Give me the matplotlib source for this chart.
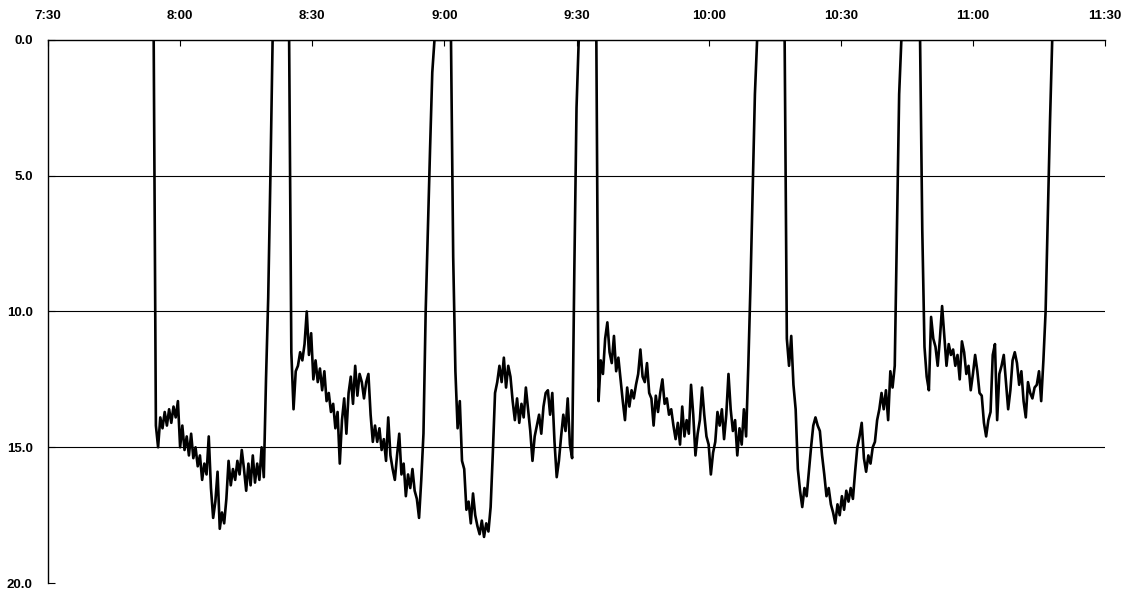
import matplotlib.pyplot as plt
import numpy as np

# dive profile, depth sampled every 30 s, each dive starts and ends at the surface
step_min = 0.5

dive_starts = ["7:54:00", "8:24:45", "9:01:30", "9:34:30", "10:17:15", "10:48:00"]

dive1 = [0.0, 14.2, 15.0, 13.9, 14.3, 13.7, 14.2, 13.6, 14.1, 13.5, 13.9, 13.3, 15.0, 14.2, 15.1,
         14.6, 15.3, 14.5, 15.4, 15.0, 15.7, 15.3, 16.2, 15.6, 16.0, 14.6, 16.5, 17.6, 17.0, 15.9,
         18.0, 17.4, 17.8, 16.9, 15.5, 16.4, 15.8, 16.2, 15.5, 16.0, 15.1, 15.8, 16.6, 15.6, 16.4,
         15.3, 16.3, 15.6, 16.2, 15.0, 16.1, 12.5, 9.5, 5.0, 0.0]
dive2 = [0.0, 11.5, 13.6, 12.2, 12.0, 11.5, 11.8, 11.2, 10.0, 11.6, 10.8, 12.5, 11.8, 12.6, 12.1,
         12.9, 12.2, 13.3, 13.0, 13.7, 13.4, 14.3, 13.7, 15.6, 14.0, 13.2, 14.5, 13.0, 12.4, 13.4,
         12.0, 13.1, 12.3, 12.6, 13.2, 12.6, 12.3, 13.8, 14.8, 14.2, 14.8, 14.3, 15.1, 14.7, 15.5,
         13.9, 15.3, 15.8, 16.2, 15.3, 14.5, 16.0, 15.6, 16.8, 16.0, 16.5, 15.8, 16.6, 16.9, 17.6,
         16.2, 14.5, 10.0, 7.0, 4.0, 1.2, 0.0]
dive3 = [0.0, 8.0, 12.2, 14.3, 13.3, 15.5, 15.8, 17.3, 17.0, 17.8, 16.7, 17.5, 17.9, 18.2, 17.7,
         18.3, 17.8, 18.1, 17.2, 15.2, 13.0, 12.6, 12.0, 12.6, 11.7, 12.8, 12.0, 12.4, 13.3, 14.0,
         13.2, 14.1, 13.4, 13.9, 12.8, 13.6, 14.4, 15.5, 14.6, 14.2, 13.8, 14.5, 13.5, 13.0, 12.9,
         13.8, 13.0, 14.8, 16.1, 15.5, 14.6, 13.8, 14.4, 13.2, 14.9, 15.4, 8.5, 2.5, 0.0]
dive4 = [0.0, 13.3, 11.8, 12.3, 11.0, 10.4, 11.5, 11.9, 10.9, 12.2, 11.7, 12.5, 13.3, 14.0, 12.8,
         13.5, 12.9, 13.2, 12.7, 12.3, 11.4, 12.4, 12.6, 11.9, 13.0, 13.2, 14.2, 13.1, 13.7, 13.0,
         12.5, 13.4, 13.2, 13.8, 13.6, 14.2, 14.7, 14.1, 14.9, 13.5, 14.6, 14.0, 14.5, 12.7, 13.8,
         15.3, 14.5, 14.0, 12.8, 13.8, 14.6, 14.9, 16.0, 15.2, 14.8, 13.7, 14.2, 13.6, 14.7, 13.8,
         12.3, 13.6, 14.4, 14.0, 15.3, 14.3, 14.9, 13.6, 14.6, 12.0, 9.0, 5.5, 2.0, 0.0]
dive5 = [0.0, 11.0, 12.0, 10.9, 12.7, 13.6, 15.8, 16.6, 17.2, 16.5, 16.8, 15.9, 15.0, 14.2, 13.9,
         14.2, 14.4, 15.3, 16.0, 16.8, 16.5, 17.1, 17.4, 17.8, 17.1, 17.5, 16.8, 17.3, 16.6, 17.0,
         16.5, 16.9, 15.9, 15.0, 14.6, 14.1, 15.4, 15.9, 15.3, 15.6, 15.0, 14.8, 14.0, 13.6, 13.0,
         13.6, 12.9, 14.0, 12.2, 12.8, 12.0, 7.0, 2.0, 0.0]
dive6 = [0.0, 7.0, 11.3, 12.4, 12.9, 10.2, 11.0, 11.3, 12.0, 11.0, 9.8, 10.9, 12.0, 11.2, 11.6,
         11.4, 12.0, 11.6, 12.5, 11.1, 11.5, 12.3, 12.0, 12.9, 12.3, 11.6, 12.2, 13.0, 13.1, 14.1,
         14.6, 14.0, 13.7, 11.6, 11.2, 14.0, 12.3, 12.0, 11.6, 12.6, 13.6, 12.9, 11.8, 11.5, 11.9,
         12.7, 12.2, 13.3, 13.9, 12.6, 13.0, 13.2, 12.8, 12.7, 12.2, 13.3, 11.8, 10.0, 6.5, 3.0, 0.0]
dives = [dive1, dive2, dive3, dive4, dive5, dive6]

tick_labels = ["7:30", "8:00", "8:30", "9:00", "9:30", "10:00", "10:30", "11:00", "11:30"]
depth_ticks = [0, 5, 10, 15, 20]
grid_depths = [5, 10, 15]


def to_minutes(s):
    # minutes after 7:30
    h, m, sec = map(int, s.split(":"))
    return h * 60 + m + sec / 60.0 - (7 * 60 + 30)


t_all = []
d_all = []
for start, depths in zip(dive_starts, dives):
    t0 = to_minutes(start)
    t_all.extend(t0 + step_min * np.arange(len(depths)))
    d_all.extend(depths)

plt.rcParams['font.family'] = ['Liberation Sans', 'DejaVu Sans']

fig = plt.figure(figsize=(11.29, 5.95), dpi=100)
ax = fig.add_axes([0.0425, 0.020, 0.9363, 0.913])

for g in grid_depths:
    ax.axhline(g, color='black', lw=0.8, zorder=1)

ax.plot(t_all, d_all, color='black', lw=1.9, zorder=2)

ax.set_xlim(0, 240)
ax.set_ylim(20, 0)
ax.xaxis.tick_top()
ax.set_xticks(np.arange(0, 241, 30))
ax.set_xticklabels(tick_labels)
ax.set_yticks(depth_ticks)
ax.set_yticklabels(["%.1f" % v for v in depth_ticks])
ax.tick_params(axis='x', direction='in', length=4, width=0.8, pad=13, labelsize=9.5)
ax.tick_params(axis='y', direction='in', length=5, width=0.8, pad=11, labelsize=9.5)
for lab in ax.get_xticklabels() + ax.get_yticklabels():
    lab.set_fontweight('bold')

ax.spines['right'].set_visible(False)
ax.spines['bottom'].set_visible(False)
ax.spines['top'].set_linewidth(1.0)
ax.spines['left'].set_linewidth(1.0)

fig.savefig("out.png", dpi=100)
